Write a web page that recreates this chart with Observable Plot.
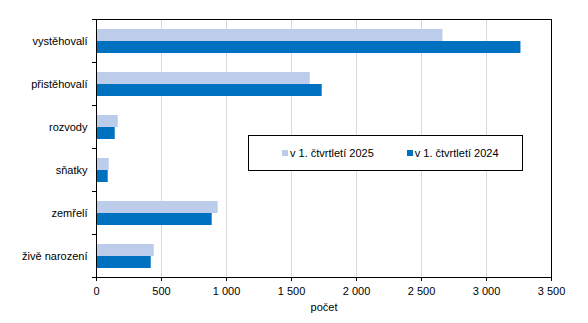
<!DOCTYPE html>
<html>
<head>
<meta charset="utf-8">
<script src="https://cdn.jsdelivr.net/npm/d3@7"></script>
<script src="https://cdn.jsdelivr.net/npm/@observablehq/plot@0.6"></script>
<style>
  html, body { margin: 0; padding: 0; background: #fff; }
  body { font-family: "Liberation Sans", Arial, sans-serif; }
  #wrap { position: relative; width: 588px; height: 323px; }
  #legend {
    position: absolute; left: 248px; top: 135px; width: 275px; height: 36px;
    box-sizing: border-box; border: 1px solid #000; background: #fff;
    display: flex; align-items: center; padding-left: 33px; gap: 33px;
    font-size: 11px; color: #000;
  }
  #legend .item { display: flex; align-items: center; white-space: nowrap; }
  #legend .sw { width: 6px; height: 6px; margin-right: 2px; }
</style>
</head>
<body>
<div id="wrap"></div>
<script>
const categories = ["vystěhovalí", "přistěhovalí", "rozvody", "sňatky", "zemřelí", "živě narození"];
const seriesLabels = ["v 1. čtvrtletí 2025", "v 1. čtvrtletí 2024"];
const values2025 = [2665, 1644, 167, 98, 936, 444];
const values2024 = [3265, 1736, 144, 90, 890, 421];
const xTicks = [0, 500, 1000, 1500, 2000, 2500, 3000, 3500];
const colors = ["#BCCCEB", "#0070C0"];
const xLabel = "počet";

const data = categories.flatMap((c, i) => [
  {category: c, series: seriesLabels[0], value: values2025[i]},
  {category: c, series: seriesLabels[1], value: values2024[i]}
]);

const fmt = d3.formatLocale({decimal: ",", thousands: "\u00a0", grouping: [3], currency: ["", ""]}).format(",d");

const chart = Plot.plot({
  width: 588, height: 323,
  marginLeft: 96, marginRight: 37, marginTop: 17, marginBottom: 45,
  style: {fontFamily: "'Liberation Sans', Arial, sans-serif", fontSize: "11px", color: "#000", background: "#fff"},
  x: {domain: [0, 3500], axis: null},
  y: {domain: seriesLabels, axis: null, paddingInner: 0, paddingOuter: 0.667},
  fy: {domain: categories, padding: 0, axis: null},
  color: {domain: seriesLabels, range: colors},
  marks: [
    Plot.gridX(xTicks, {stroke: "#d9d9d9", strokeOpacity: 1}),
    Plot.barX(data, {fy: "category", y: "series", x: "value", fill: "series"}),
    Plot.frame({facet: "super", stroke: "#000"}),
    Plot.frame({anchor: "top", insetLeft: -4, insetRight: 455, stroke: "#000"}),
    Plot.frame({anchor: "bottom", insetLeft: -4, insetRight: 455, stroke: "#000"}),
    Plot.axisFy({anchor: "left", tickSize: 0, tickPadding: 9, label: null, fontSize: 11}),
    Plot.axisX({ticks: xTicks, tickFormat: fmt, tickSize: 4, tickPadding: 6, label: xLabel,
      labelAnchor: "center", labelArrow: "none", labelOffset: 33, fontSize: 11})
  ]
});
const wrap = document.getElementById("wrap");
wrap.appendChild(chart);

const legend = document.createElement("div");
legend.id = "legend";
seriesLabels.forEach((s, i) => {
  const it = document.createElement("div");
  it.className = "item";
  const sw = document.createElement("span");
  sw.className = "sw";
  sw.style.background = colors[i];
  const t = document.createElement("span");
  t.textContent = s;
  it.appendChild(sw); it.appendChild(t);
  legend.appendChild(it);
});
wrap.appendChild(legend);
</script>
</body>
</html>
